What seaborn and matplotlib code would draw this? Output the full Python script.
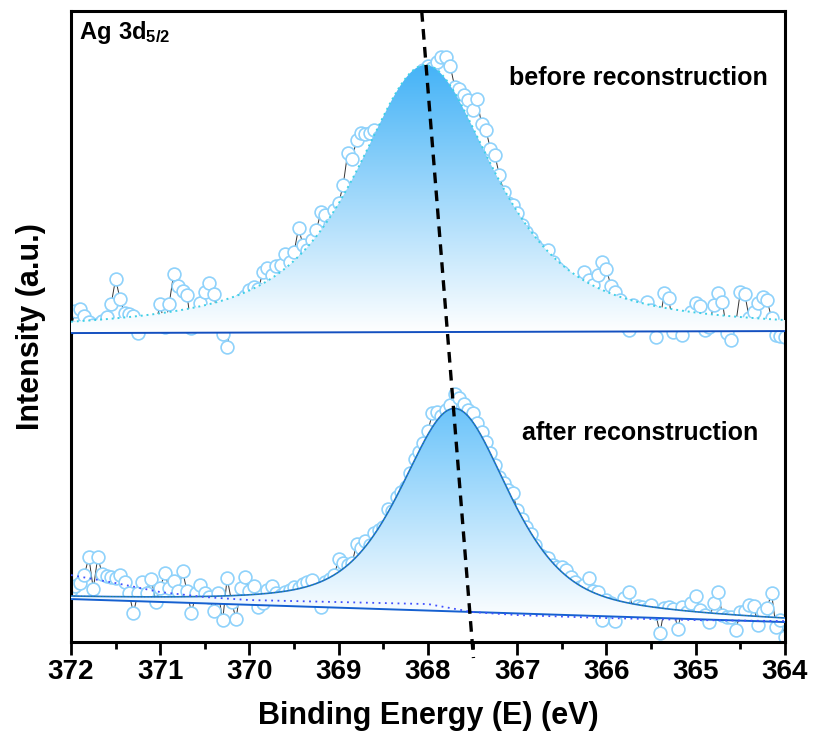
import numpy as np
import pandas as pd
import matplotlib
matplotlib.use("Agg")
import matplotlib.pyplot as plt
import seaborn as sns
from matplotlib.colors import LinearSegmentedColormap

# binding energy grid of the measured points (eV), 0.05 eV steps
energy = np.round(np.arange(372.0, 363.999, -0.05), 2)

before = [315, 331, 333, 326, 320, 317, 318, 321, 325, 338, 363, 343, 329, 328, 326, 309,
          317, 317, 317, 319, 338, 315, 338, 368, 356, 351, 347, 314, 320, 339, 350, 359,
          348, 322, 308, 295, 324, 337, 342, 346, 352, 355, 353, 370, 374, 367, 376, 377,
          388, 380, 390, 414, 397, 392, 402, 412, 430, 427, 417, 432, 439, 457, 489, 483,
          502, 509, 508, 509, 512, 505, 510, 518, 525, 532, 540, 546, 552, 560, 566, 572,
          576, 574, 580, 585, 585, 576, 555, 553, 547, 542, 532, 543, 518, 512, 493, 487,
          467, 450, 439, 437, 429, 417, 410, 404, 397, 392, 387, 392, 380, 374, 370, 362,
          357, 319, 359, 370, 362, 357, 367, 380, 373, 356, 350, 342, 317, 312, 337, 319,
          327, 340, 332, 305, 323, 349, 344, 310, 317, 307, 320, 330, 339, 336, 312, 315,
          337, 349, 340, 309, 302, 319, 350, 348, 324, 330, 339, 345, 342, 324, 307, 306,
          305]

after = [52, 56, 59, 67, 85, 53, 85, 68, 66, 65, 64, 67, 60, 49, 29, 49,
         60, 49, 63, 40, 54, 69, 54, 61, 51, 71, 51, 29, 49, 57, 49, 45,
         31, 49, 22, 64, 40, 23, 54, 65, 51, 56, 35, 39, 52, 56, 49, 47,
         50, 52, 55, 54, 58, 60, 62, 44, 35, 60, 63, 67, 83, 79, 77, 79,
         98, 94, 101, 97, 109, 112, 115, 133, 131, 145, 150, 155, 169, 183, 190, 199,
         211, 229, 230, 226, 232, 237, 248, 244, 238, 232, 229, 219, 210, 200, 189, 177,
         165, 159, 152, 149, 132, 123, 115, 108, 97, 87, 85, 84, 77, 75, 75, 72,
         65, 60, 55, 57, 64, 51, 50, 22, 42, 39, 21, 37, 44, 50, 32, 36,
         35, 33, 37, 29, 9, 34, 35, 33, 13, 35, 30, 39, 46, 32, 27, 20,
         39, 50, 27, 25, 25, 12, 30, 31, 37, 36, 17, 30, 34, 49, 15, 22,
         5]

# fit parameters: center (eV), FWHM (eV), height, Lorentzian fraction, linear background ends
fit_before = dict(center=368.03, fwhm=1.88, height=267, eta=0.8, bg=(309, 311))
fit_after = dict(center=367.70, fwhm=1.44, height=203, eta=0.55, bg=(43, 20))

# background of the "after" spectrum (dotted)
bg_energy = [372.0, 371.5, 371.0, 370.5, 370.0, 369.0, 368.0, 367.5, 367.0, 366.0, 365.0, 364.0]
bg_after = [67, 59, 50, 45, 42, 40, 38, 30, 27, 24, 22, 21]

# guide line through the two peak maxima
guide_energy = [368.07, 367.49]
guide_level = [631, -16]


def pseudo_voigt(e, center, fwhm, height, eta):
    d = (e - center) / (fwhm / 2)
    return height * (eta / (1 + d ** 2) + (1 - eta) * np.exp(-np.log(2) * d ** 2))


def fit_curves(e, p):
    base = p["bg"][0] + (p["bg"][1] - p["bg"][0]) * (372 - e) / 8
    return base, base + pseudo_voigt(e, p["center"], p["fwhm"], p["height"], p["eta"])


def gradient_fill(ax, e, top, base, color, z):
    poly = ax.fill_between(e, base, top, facecolor="none", edgecolor="none")
    cmap = LinearSegmentedColormap.from_list("g", ["white", color])
    grad = np.linspace(0, 1, 256).reshape(-1, 1)
    im = ax.imshow(grad, cmap=cmap, aspect="auto", origin="lower",
                   extent=[372, 364, base.min(), top.max()], zorder=z)
    im.set_clip_path(poly.get_paths()[0], transform=ax.transData)


sns.set_theme(style="white")
plt.rcParams["font.family"] = ["Liberation Sans", "DejaVu Sans"]
plt.rcParams["mathtext.fontset"] = "custom"
plt.rcParams["mathtext.bf"] = "Liberation Sans:bold"
plt.rcParams["mathtext.rm"] = "Liberation Sans:bold"
plt.rcParams["text.color"] = "black"
plt.rcParams["axes.labelcolor"] = "black"
plt.rcParams["xtick.color"] = "black"
plt.rcParams["xtick.labelcolor"] = "black"

df = pd.DataFrame({"E": np.concatenate([energy, energy]),
                   "I": np.concatenate([before, after]),
                   "sample": ["before"] * len(energy) + ["after"] * len(energy)})

fig = plt.figure(figsize=(8.15, 7.38), dpi=100)
ax = fig.add_axes([0.0871, 0.130, 0.876, 0.855])

for name in ["before", "after"]:
    sub = df[df["sample"] == name]
    sns.lineplot(data=sub, x="E", y="I", color="#333333", lw=0.7, sort=False, ax=ax, zorder=1.5)
    sns.scatterplot(data=sub, x="E", y="I", marker="o", s=85, color="white",
                    edgecolor="#8fd2fb", linewidth=1.2, ax=ax, zorder=2)

e_fit = np.linspace(372, 364, 801)
base_b, env_b = fit_curves(e_fit, fit_before)
base_a, env_a = fit_curves(e_fit, fit_after)

gradient_fill(ax, e_fit, env_b, base_b, "#45b3f7", 3)
gradient_fill(ax, e_fit, env_a, base_a, "#6cc4fa", 3)

ax.plot(e_fit, env_b, color="#3fd0e6", lw=1.4, ls=(0, (1, 2)), zorder=4)
ax.plot(e_fit, base_b, color="#1450c0", lw=1.4, zorder=4)
ax.plot(e_fit, env_a, color="#1f6fd6", lw=1.2, zorder=4)
ax.plot(e_fit, env_a, color="#2ca02c", lw=0.6, ls=(0, (1, 3)), zorder=4)
ax.plot(e_fit, base_a, color="#1560d0", lw=1.4, zorder=4)
ax.plot(bg_energy, bg_after, color="#4050ff", lw=1.3, ls=(0, (1, 2.5)), zorder=4)

ax.plot(guide_energy, guide_level, color="black", lw=2.4, ls=(0, (3.2, 2.2)),
        zorder=5, clip_on=False)

ax.text(0.011, 0.987, r"$\mathbf{Ag\ 3d_{5/2}}$", transform=ax.transAxes,
        fontsize=17, ha="left", va="top")
ax.text(364.19, 564, "before reconstruction", fontsize=18, fontweight="bold",
        ha="right", va="center")
ax.text(364.30, 209, "after reconstruction", fontsize=18, fontweight="bold",
        ha="right", va="center")

ax.set_xlim(372, 364)
ax.set_ylim(0, 631)
ax.set_xticks(np.arange(372, 363.9, -1))
ax.set_xticks(np.arange(371.5, 364, -1), minor=True)
ax.set_xticklabels([str(v) for v in range(372, 363, -1)])
ax.set_yticks([])
ax.tick_params(axis="x", which="major", direction="out", length=9, width=2,
               labelsize=20, pad=3, bottom=True, color="black")
ax.tick_params(axis="x", which="minor", direction="out", length=5, width=2,
               bottom=True, color="black")
for lab in ax.get_xticklabels():
    lab.set_fontweight("bold")
for sp in ax.spines.values():
    sp.set_color("black")
    sp.set_linewidth(2.2)

ax.set_xlabel("Binding Energy (E) (eV)", fontsize=22, fontweight="bold", labelpad=12)
ax.set_ylabel("Intensity (a.u.)", fontsize=22, fontweight="bold", labelpad=18)

fig.savefig("out.png", dpi=100)
